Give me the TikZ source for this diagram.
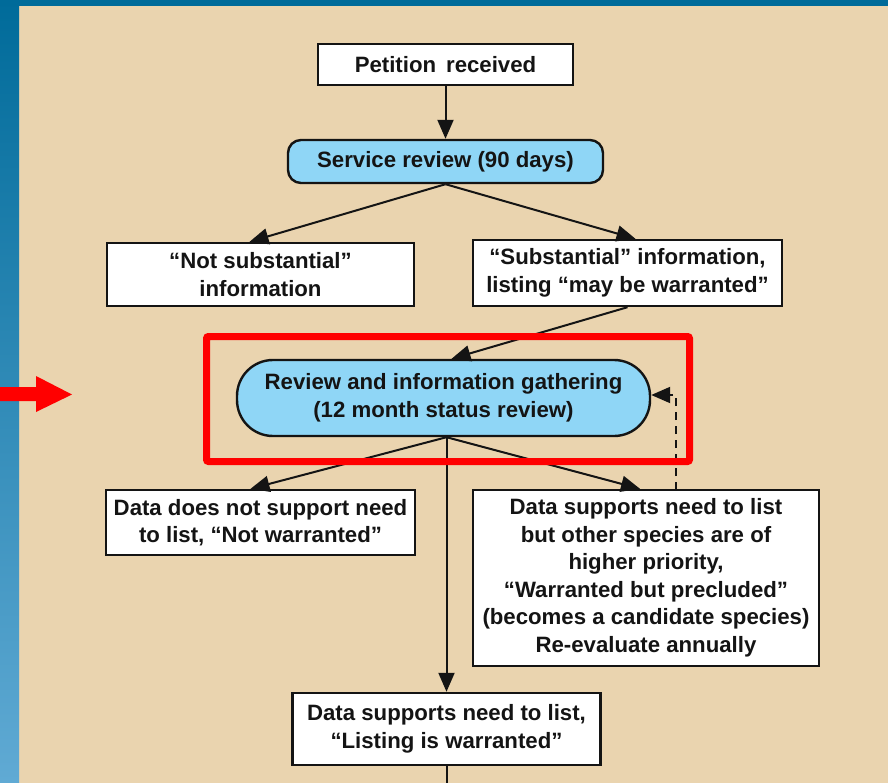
\documentclass[tikz,border=0pt]{standalone}
\usepackage{fontspec}
\setmainfont{Liberation Sans}
\usetikzlibrary{arrows.meta,calc}
\definecolor{beige}{RGB}{234,212,175}
\definecolor{topblue}{RGB}{0,107,154}
\definecolor{lowblue}{RGB}{96,170,212}
\definecolor{fillblue}{RGB}{143,214,246}
\definecolor{ink}{RGB}{20,20,20}
\begin{document}
\begin{tikzpicture}[x=1pt,y=-1pt,
  txt/.style={font=\bfseries\fontsize{22.2}{27.5}\selectfont, align=center, text=ink},
  wbox/.style={txt, draw=ink, line width=2.4pt, fill=white, inner sep=0pt},
  bbox/.style={wbox, fill=fillblue},
  conn/.style={draw=ink, line width=2pt},
  tip/.style={-{Triangle[length=19pt,width=16pt]}},
  arr/.style={conn, tip}]
% background
\fill[beige] (0,0) rectangle (888,783);
\shade[top color=topblue, bottom color=lowblue] (0,0) rectangle (19,783);
\fill[topblue] (0,0) rectangle (888,6);
\useasboundingbox (0,0) rectangle (888,783);
% nodes
\node[wbox, minimum width=255pt, minimum height=41pt] (pr) at (445.5,64.5) {Petition\hspace{0.45em}received};
\node[bbox, rounded corners=13pt, minimum width=315pt, minimum height=43pt] (sr) at (445.5,161.5) {Service review (90 days)};
\node[wbox, minimum width=307pt, minimum height=63pt] (ns) at (260.5,274.5) {\textquotedblleft Not substantial\textquotedblright\\information};
\node[wbox, minimum width=309pt, minimum height=66pt] (si) at (627.5,273) {\textquotedblleft Substantial\textquotedblright\ information,\\listing \textquotedblleft may be warranted\textquotedblright};
\node[bbox, rounded corners=36pt, minimum width=413pt, minimum height=76pt] (rv) at (443.5,398) {Review and information gathering\\(12 month status review)};
\node[wbox, minimum width=309pt, minimum height=65pt] (nw) at (260.5,522.5) {Data does not support need\\to list, \textquotedblleft Not warranted\textquotedblright};
\node[wbox, minimum width=346pt, minimum height=176pt] (wp) at (646,578) {Data supports need to list\\but other species are of\\higher priority,\\\textquotedblleft Warranted but precluded\textquotedblright\\(becomes a candidate species)\\Re-evaluate annually};
\node[wbox, minimum width=308pt, minimum height=72pt] (lw) at (446.5,729) {Data supports need to list,\\\textquotedblleft Listing is warranted\textquotedblright};
\coordinate (dtop) at (676,490);
\coordinate (offb) at (446.5,790);
% connectors
\draw[arr] (pr.south) -- (sr.north);
\draw[arr] (sr.south) -- ($(ns.north)+(-11,0)$);
\draw[arr] (sr.south) -- ($(si.north)+(8,0)$);
\draw[arr] (si.south) -- ($(rv.north)+(8,0)$);
\draw[arr] ($(rv.south)+(3,0)$) -- ($(nw.north)+(-10,0)$);
\draw[arr] ($(rv.south)+(3,0)$) -- ($(wp.north)+(-6,0)$);
\draw[arr] ($(rv.south)+(3,0)$) -- (lw.north);
\draw[conn] (lw.south) -- (offb);
\draw[conn, dash pattern=on 8pt off 6pt, tip] (dtop) |- ($(rv.east)+(0,-3)$);
% highlight
\draw[red, line width=7pt, rounded corners=2pt] (206.5,336.5) rectangle (689.5,461.5);
\fill[red] (0,387) -- (36,387) -- (36,376) -- (72,394.5) -- (36,412) -- (36,401) -- (0,401) -- cycle;
\end{tikzpicture}
\end{document}
